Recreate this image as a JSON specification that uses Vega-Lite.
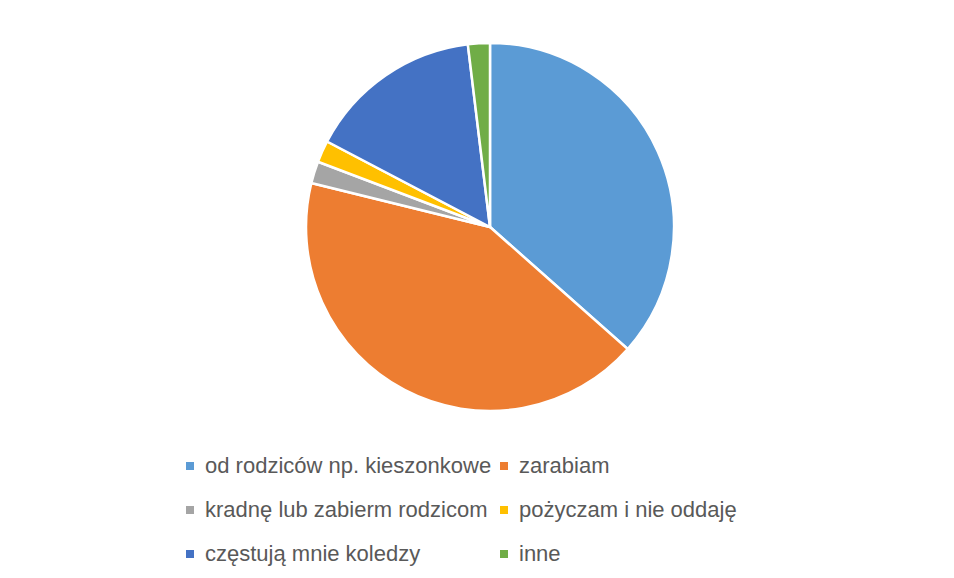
{
  "$schema": "https://vega.github.io/schema/vega-lite/v6.json",
  "autosize": {"type": "none"},
  "width": 368,
  "height": 368,
  "padding": {"left": 306, "top": 43, "right": 280, "bottom": 167},
  "background": "white",
  "config": {"view": {"stroke": null}},
  "data": {
    "values": [
      {"nr": 1, "zrodlo": "od rodziców np. kieszonkowe", "liczba": 19},
      {"nr": 2, "zrodlo": "zarabiam", "liczba": 22},
      {"nr": 3, "zrodlo": "kradnę lub zabierm rodzicom", "liczba": 1},
      {"nr": 4, "zrodlo": "pożyczam i nie oddaję", "liczba": 1},
      {"nr": 5, "zrodlo": "częstują mnie koledzy", "liczba": 8},
      {"nr": 6, "zrodlo": "inne", "liczba": 1}
    ]
  },
  "mark": {"type": "arc", "outerRadius": 184, "stroke": "white", "strokeWidth": 2.5},
  "encoding": {
    "theta": {"field": "liczba", "type": "quantitative", "stack": true},
    "order": {"field": "nr", "type": "quantitative"},
    "color": {
      "field": "zrodlo",
      "type": "nominal",
      "sort": ["od rodziców np. kieszonkowe", "zarabiam", "kradnę lub zabierm rodzicom", "pożyczam i nie oddaję", "częstują mnie koledzy", "inne"],
      "scale": {
        "domain": ["od rodziców np. kieszonkowe", "zarabiam", "kradnę lub zabierm rodzicom", "pożyczam i nie oddaję", "częstują mnie koledzy", "inne"],
        "range": ["#5B9BD5", "#ED7D31", "#A5A5A5", "#FFC000", "#4472C4", "#70AD47"]
      },
      "legend": {
        "title": null,
        "orient": "none",
        "legendX": -127,
        "legendY": 412,
        "direction": "horizontal",
        "columns": 2,
        "padding": 0,
        "symbolType": "square",
        "symbolSize": 64,
        "symbolStrokeWidth": 0,
        "labelFont": "Liberation Sans",
        "labelFontSize": 22,
        "labelColor": "#595959",
        "labelOffset": 4,
        "labelLimit": 400,
        "columnPadding": 1,
        "rowPadding": 22
      }
    }
  }
}
